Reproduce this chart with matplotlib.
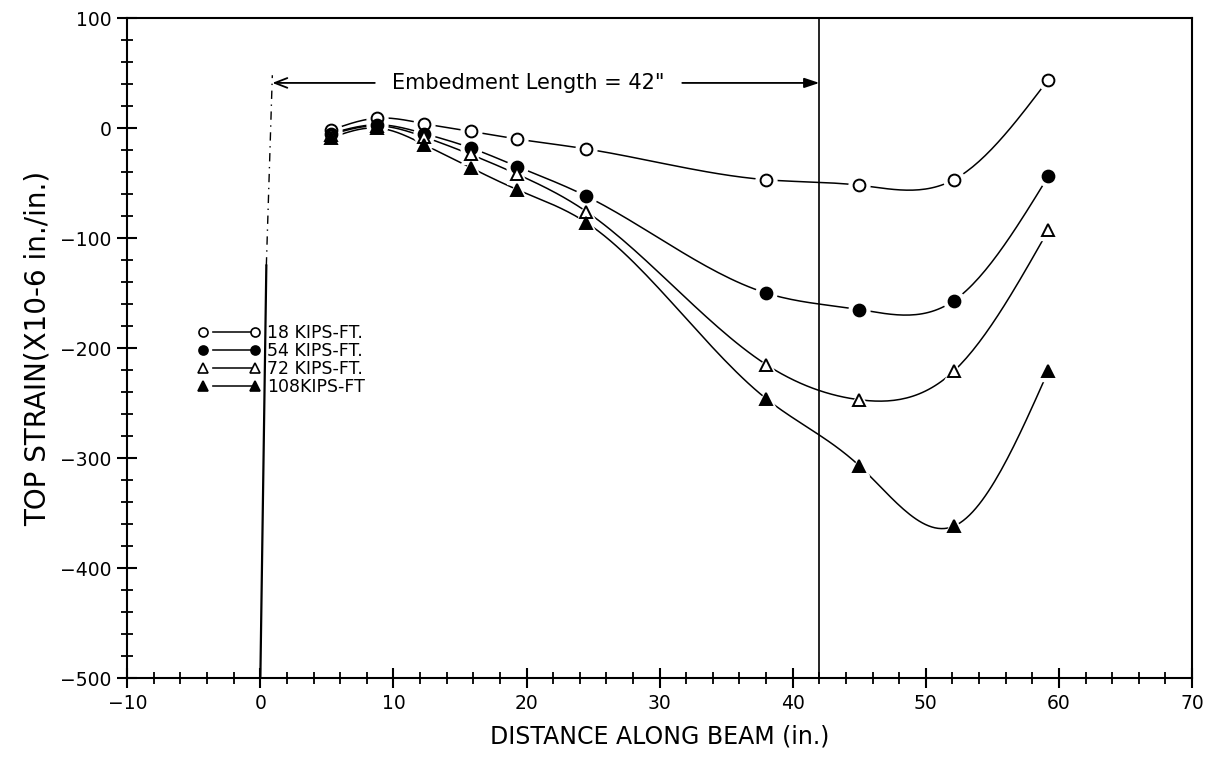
import numpy as np
import matplotlib
matplotlib.use("Agg")
import matplotlib.pyplot as plt
from matplotlib.lines import Line2D
from matplotlib.ticker import MultipleLocator

# gauge positions along the beam (in.)
x_pos = [5.3, 8.8, 12.3, 15.8, 19.3, 24.5, 38.0, 45.0, 52.1, 59.2]

# top strain (x10-6 in./in.) for each moment level
strain_18 = [-2, 9, 4, -3, -10, -19, -47, -52, -47, 44]
strain_54 = [-5, 3, -5, -18, -35, -62, -150, -165, -157, -44]
strain_72 = [-6, 2, -8, -24, -42, -76, -215, -247, -221, -93]
strain_108 = [-9, 0, -15, -36, -56, -86, -246, -307, -362, -221]

labels = ["18 KIPS-FT.", "54 KIPS-FT.", "72 KIPS-FT.", "108KIPS-FT"]
embed_len = 42


def spline(x, y, n=30):
  # natural cubic spline, only used to draw the smooth curve through the points
  x = np.asarray(x, float)
  y = np.asarray(y, float)
  h = np.diff(x)
  m = len(x)
  A = np.zeros((m, m))
  b = np.zeros(m)
  A[0, 0] = 1
  A[-1, -1] = 1
  for i in range(1, m - 1):
    A[i, i - 1] = h[i - 1]
    A[i, i] = 2 * (h[i - 1] + h[i])
    A[i, i + 1] = h[i]
    b[i] = 3 * ((y[i + 1] - y[i]) / h[i] - (y[i] - y[i - 1]) / h[i - 1])
  c = np.linalg.solve(A, b)
  xs = []
  ys = []
  for i in range(m - 1):
    t = np.linspace(0, h[i], n, endpoint=False)
    bi = (y[i + 1] - y[i]) / h[i] - h[i] * (2 * c[i] + c[i + 1]) / 3
    di = (c[i + 1] - c[i]) / (3 * h[i])
    xs.extend(x[i] + t)
    ys.extend(y[i] + bi * t + c[i] * t ** 2 + di * t ** 3)
  xs.append(x[-1])
  ys.append(y[-1])
  return xs, ys


fig = plt.figure(figsize=(12.12, 7.67), dpi=100)
ax = fig.add_axes([0.105, 0.116, 0.8785, 0.8605])

series = [strain_18, strain_54, strain_72, strain_108]
styles = [("o", "white"), ("o", "black"), ("^", "white"), ("^", "black")]

for s in series:
  xs, ys = spline(x_pos, s)
  ax.plot(xs, ys, color="black", lw=1.1, zorder=2)

handles = []
for s, (mk, fc) in zip(series, styles):
  # white halo so the curves stop short of the symbols
  ax.plot(x_pos, s, ls="none", marker=mk, ms=15, mfc="white", mec="white", zorder=3)
  ax.plot(x_pos, s, ls="none", marker=mk, ms=8.5, mfc=fc, mec="black", mew=1.4, zorder=4)
  # legend: marker, gap, line, gap, marker
  handles.append(Line2D([], [], color="black", lw=1.1, ls=(0, (0, 6, 27, 60)),
                        marker=mk, ms=6.5, mfc=fc, mec="black", mew=1.2))

leg = ax.legend(handles, labels, numpoints=2, loc="upper left",
                bbox_to_anchor=(0.058, 0.55), frameon=False, fontsize=12.5,
                handlelength=3.6, handletextpad=0.4, labelspacing=0.0, borderpad=0)

# end of embedment line and the x=0 line
ax.axvline(embed_len, color="black", lw=1.2, zorder=1)
ax.plot([0, 0.45], [-500, -125], color="black", lw=1.6, zorder=1)
ax.plot([0.45, 0.9], [-125, 48], color="black", lw=1.0, ls=(0, (6, 4, 1, 4)), zorder=1)

ax.annotate("", xy=(0.9, 41), xytext=(8.6, 41),
            arrowprops=dict(arrowstyle="->,head_length=0.9,head_width=0.35", lw=1.3,
                            color="black", shrinkA=0, shrinkB=0))
ax.annotate("", xy=(embed_len, 41), xytext=(31.7, 41),
            arrowprops=dict(arrowstyle="-|>,head_length=0.9,head_width=0.3", lw=1.3,
                            color="black", shrinkA=0, shrinkB=0))
ax.text(20.1, 41, 'Embedment Length = 42"', ha="center", va="center", fontsize=15)

ax.set_xlim(-10, 70)
ax.set_ylim(-500, 100)
ax.xaxis.set_major_locator(MultipleLocator(10))
ax.xaxis.set_minor_locator(MultipleLocator(2))
ax.yaxis.set_major_locator(MultipleLocator(100))
ax.yaxis.set_minor_locator(MultipleLocator(20))
ax.tick_params(which="major", direction="inout", length=15, width=1.5, labelsize=13.5, pad=4)
ax.tick_params(which="minor", direction="inout", length=8, width=1.3)
ax.tick_params(top=False, right=False)
for sp in ax.spines.values():
  sp.set_linewidth(1.5)

ax.set_xlabel("DISTANCE ALONG BEAM (in.)", fontsize=17, labelpad=8)
ax.set_ylabel("TOP STRAIN(X10-6 in./in.)", fontsize=20, labelpad=6)

fig.savefig("out.png", dpi=100)
